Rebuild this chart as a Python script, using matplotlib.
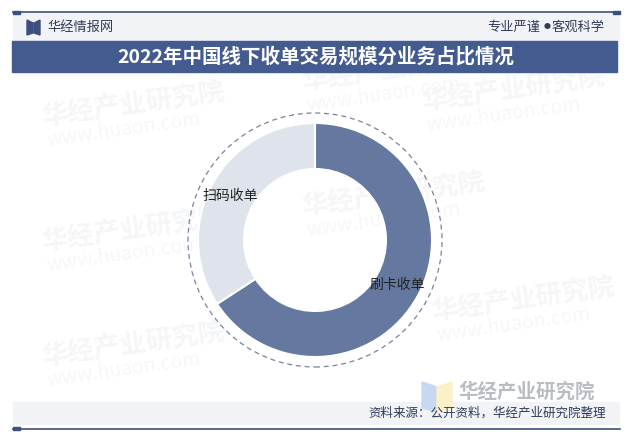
import matplotlib
matplotlib.use('Agg')
import matplotlib.pyplot as plt
from matplotlib.patches import Rectangle, Circle, Polygon

plt.rcParams['font.family'] = ['Noto Sans CJK SC', 'DejaVu Sans']

# data
labels = ['刷卡收单', '扫码收单']
shares = [65.8, 34.2]
colors = ['#65789f', '#dfe3ec']

title = '2022年中国线下收单交易规模分业务占比情况'
source = '资料来源：公开资料，华经产业研究院整理'

W, H = 632, 440
fig = plt.figure(figsize=(W / 100, H / 100), dpi=100)

# background overlay in pixel coordinates
bg = fig.add_axes([0, 0, 1, 1])
bg.set_xlim(0, W)
bg.set_ylim(H, 0)
bg.axis('off')

# faint watermarks
for (x, y) in [(40, 105), (40, 230), (40, 345), (300, 70), (300, 195), (430, 300), (420, 90)]:
    bg.text(x, y, '华经产业研究院', fontsize=19, fontweight='bold', color='#f5f6f8',
            rotation=8, ha='left', va='center', zorder=0)
    bg.text(x + 5, y + 25, 'www.huaon.com', fontsize=14, color='#f6f7f9',
            rotation=8, ha='left', va='center', zorder=0)

# header band
bg.add_patch(Rectangle((13, 13), 606, 28, color='#f2f3f7', zorder=1))
bg.plot([13, 620], [12.5, 12.5], color='#3d4f7f', lw=1.2, zorder=2)
bg.add_patch(Rectangle((13, 11), 7, 3, color='#3d4f7f', zorder=2))
bg.add_patch(Rectangle((613, 11), 7, 3, color='#3d4f7f', zorder=2))
bg.add_patch(Polygon([(27, 20), (33, 23), (33, 33), (27, 35)], color='#3d4f7f', zorder=2))
bg.add_patch(Polygon([(40, 20), (34, 23), (34, 33), (40, 35)], color='#3d4f7f', zorder=2))
bg.text(47, 27, '华经情报网', fontsize=9.5, color='#2f3b57', ha='left', va='center', zorder=3)
bg.text(605, 27, '客观科学', fontsize=9.5, color='#2f3b57', ha='right', va='center', zorder=3)
bg.text(547, 27, '●', fontsize=5, color='#2f3b57', ha='center', va='center', zorder=3)
bg.text(540, 27, '专业严谨', fontsize=9.5, color='#2f3b57', ha='right', va='center', zorder=3)

# title bar
bg.add_patch(Rectangle((12, 41), 605, 31, color='#445b8f', zorder=2))
bg.text(315.5, 57, title, fontsize=14, fontweight='bold', color='white',
        ha='center', va='center', zorder=3)

# footer band
bg.add_patch(Rectangle((13, 402), 606, 22, color='#f2f3f7', zorder=1))
bg.plot([13, 620], [429, 429], color='#3d4f7f', lw=1.2, zorder=2)
bg.add_patch(Rectangle((13, 427.5), 7, 3, color='#3d4f7f', zorder=2))
bg.text(606, 413, source, fontsize=9, color='#2f3b57', ha='right', va='center', zorder=4)

# logo bottom right
bg.add_patch(Polygon([(422, 382), (437, 387), (437, 412), (422, 408)], color='#c8d8f3', zorder=2))
bg.add_patch(Polygon([(452, 382), (437, 387), (437, 412), (452, 408)], color='#fbf0c8', zorder=2))
bg.text(458, 392, '华经产业研究院', fontsize=14, fontweight='bold', color='#b9bcc3',
        ha='left', va='center', zorder=3)

# donut
cx, cy, R = 315, 240, 130
ax = fig.add_axes([(cx - R) / W, 1 - (cy + R) / H, 2 * R / W, 2 * R / H])
ax.patch.set_alpha(0)

outer, inner = 117, 71
wedges, _ = ax.pie(shares, radius=outer, colors=colors, startangle=90, counterclock=False,
                   wedgeprops=dict(width=outer - inner, edgecolor='white', linewidth=1.5))
ax.add_patch(Circle((0, 0), 127, fill=False, ls=(0, (4, 3)), lw=0.9, color='#7a8299'))
ax.set_xlim(-R, R)
ax.set_ylim(-R, R)
ax.set_aspect('equal')
ax.axis('off')

ax.text(82, -45, labels[0], fontsize=10, color='#222222', ha='center', va='center')
ax.text(-85, 44, labels[1], fontsize=10, color='#222222', ha='center', va='center')

fig.savefig('out.png', dpi=100)
